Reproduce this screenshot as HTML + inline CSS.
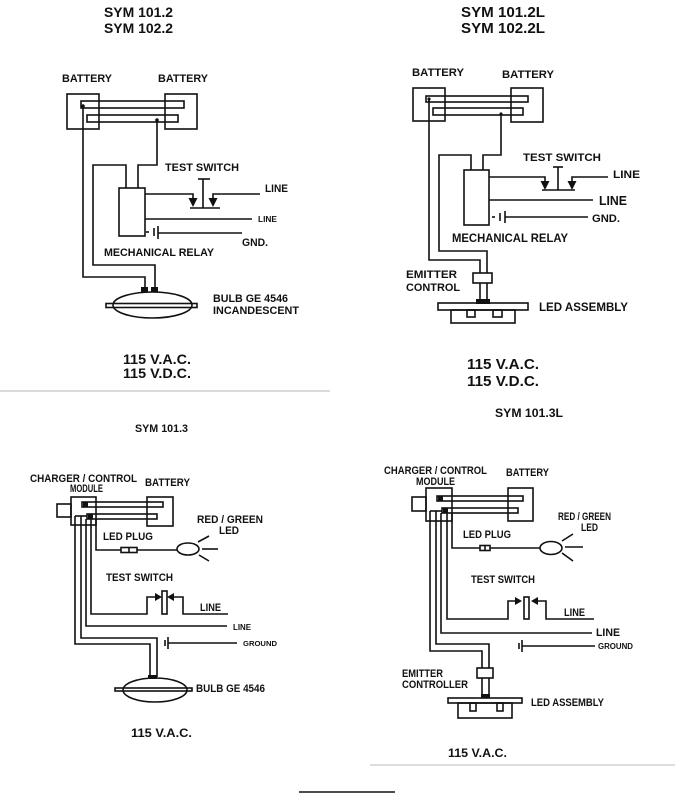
<!DOCTYPE html>
<html><head><meta charset="utf-8"><style>
html,body{margin:0;padding:0;background:#fff;}
svg{display:block;}
text{font-family:"Liberation Sans",Arial,sans-serif;font-weight:bold;fill:#111;}
</style></head><body>
<svg width="675" height="794" viewBox="0 0 675 794" xmlns="http://www.w3.org/2000/svg">
<g fill="none" stroke="#111" stroke-width="1.6">
<!-- ===== TOP LEFT ===== -->
<rect x="67" y="94" width="32" height="35"/>
<rect x="165" y="94" width="32" height="35"/>
<rect x="81" y="101" width="103" height="7"/>
<rect x="87" y="115" width="91" height="7"/>
<polyline points="83,106 83,277 145,277 145,290"/>
<polyline points="157,120 157,165 138,165 138,188"/>
<polyline points="126,188 126,165 93,165 93,265 155,265 155,290"/>
<rect x="119" y="188" width="26" height="48"/>
<polyline points="145,194 193,194 193,200"/>
<line x1="190" y1="208" x2="220" y2="208"/>
<line x1="203" y1="179" x2="203" y2="208"/>
<line x1="198" y1="179" x2="210" y2="179"/>
<polyline points="260,194 213,194 213,200"/>
<line x1="145" y1="219" x2="252" y2="219"/>
<line x1="146" y1="232" x2="149" y2="232"/>
<line x1="154" y1="228" x2="154" y2="236"/>
<line x1="158" y1="226" x2="158" y2="239"/>
<line x1="158" y1="233" x2="242" y2="233"/>
<ellipse cx="152.5" cy="305" rx="39.5" ry="13"/>
<rect x="106" y="303.5" width="91" height="4"/>
<!-- ===== TOP RIGHT ===== -->
<rect x="413" y="88" width="32" height="33"/>
<rect x="511" y="88" width="32" height="34"/>
<rect x="426" y="96" width="102" height="6"/>
<rect x="433" y="108" width="90" height="7"/>
<polyline points="429,99 429,260 480,260 480,273"/>
<polyline points="501,114 501,155 483,155 483,170"/>
<polyline points="471,170 471,155 439,155 439,251 487,251 487,273"/>
<rect x="464" y="170" width="25" height="55"/>
<polyline points="489,177 545,177 545,183"/>
<line x1="542" y1="190" x2="575" y2="190"/>
<line x1="558" y1="167" x2="558" y2="190"/>
<line x1="553" y1="167" x2="563" y2="167"/>
<polyline points="608,177 572,177 572,183"/>
<line x1="489" y1="200" x2="593" y2="200"/>
<line x1="492" y1="217" x2="495" y2="217"/>
<line x1="500" y1="213" x2="500" y2="221"/>
<line x1="505" y1="211" x2="505" y2="223"/>
<line x1="505" y1="217" x2="588" y2="217"/>
<rect x="473" y="273" width="19" height="10"/>
<line x1="480" y1="283" x2="480" y2="301"/>
<line x1="487" y1="283" x2="487" y2="301"/>
<rect x="438" y="303" width="90" height="7"/>
<rect x="451" y="310" width="64" height="13"/>
<rect x="467" y="310" width="8" height="7"/>
<rect x="493" y="310" width="9" height="7"/>
<!-- ===== BOTTOM LEFT ===== -->
<rect x="71" y="497" width="25" height="28"/>
<rect x="57" y="504" width="14" height="13"/>
<rect x="147" y="497" width="26" height="29"/>
<rect x="82" y="502" width="81" height="5"/>
<rect x="87" y="514" width="70" height="5"/>
<line x1="75" y1="516" x2="87" y2="516"/>
<polyline points="96,519 96,550 121,550"/>
<rect x="121" y="547.5" width="16" height="5"/>
<line x1="129" y1="547.5" x2="129" y2="552.5"/>
<line x1="137" y1="550" x2="177" y2="550"/>
<ellipse cx="188" cy="549" rx="11" ry="6"/>
<line x1="198" y1="542" x2="209" y2="536"/>
<line x1="202" y1="549" x2="218" y2="549"/>
<line x1="199" y1="555" x2="209" y2="561"/>
<polyline points="91,519 91,614 147,614 147,597 156,597"/>
<rect x="162" y="591" width="5" height="23"/>
<polyline points="173,597 183,597 183,614 228,614"/>
<polyline points="86,519 86,626 227,626"/>
<polyline points="81,516 81,638 157,638 157,677"/>
<polyline points="75,516 75,644 150,644 150,677"/>
<line x1="165" y1="640" x2="165" y2="646"/>
<line x1="168" y1="637" x2="168" y2="649"/>
<line x1="168" y1="643" x2="237" y2="643"/>
<ellipse cx="155" cy="690" rx="32" ry="12"/>
<rect x="115" y="688" width="77" height="3"/>
<!-- ===== BOTTOM RIGHT ===== -->
<rect x="426" y="488" width="26" height="33"/>
<rect x="412" y="497" width="14" height="14"/>
<rect x="508" y="488" width="25" height="33"/>
<rect x="437" y="496" width="86" height="5"/>
<rect x="442" y="508" width="76" height="5"/>
<line x1="430" y1="511" x2="442" y2="511"/>
<polyline points="452,513 452,548 480,548"/>
<rect x="480" y="545.5" width="10" height="5"/>
<line x1="485" y1="545.5" x2="485" y2="550.5"/>
<line x1="490" y1="548" x2="540" y2="548"/>
<ellipse cx="551" cy="548" rx="11" ry="6.5"/>
<line x1="562" y1="541" x2="573" y2="534"/>
<line x1="565" y1="547" x2="583" y2="547"/>
<line x1="562" y1="553" x2="573" y2="561"/>
<polyline points="447,513 447,619 508,619 508,601 516,601"/>
<rect x="524" y="597" width="5" height="22"/>
<polyline points="537,601 546,601 546,619 594,619"/>
<polyline points="441,513 441,633 592,633"/>
<polyline points="436,511 436,644 489,644 489,668"/>
<polyline points="430,511 430,651 482,651 482,668"/>
<rect x="477" y="668" width="16" height="10"/>
<line x1="482" y1="678" x2="482" y2="695"/>
<line x1="489" y1="678" x2="489" y2="695"/>
<rect x="448" y="698" width="74" height="5"/>
<rect x="458" y="703" width="54" height="15"/>
<rect x="470" y="703" width="6" height="8"/>
<rect x="497" y="703" width="6" height="8"/>
<line x1="519" y1="643" x2="519" y2="649"/>
<line x1="522" y1="640" x2="522" y2="652"/>
<line x1="522" y1="646" x2="595" y2="646"/>
</g>
<g fill="#111" stroke="none">
<circle cx="83" cy="106" r="1.8"/>
<circle cx="157" cy="120" r="1.8"/>
<polygon points="188.5,198 197.5,198 193,207"/>
<polygon points="208.5,198 217.5,198 213,207"/>
<rect x="141" y="287" width="7" height="5"/>
<rect x="151" y="287" width="7" height="5"/>
<circle cx="429" cy="99" r="1.6"/>
<circle cx="501" cy="114" r="1.6"/>
<polygon points="540.5,181 549.5,181 545,190"/>
<polygon points="567.5,181 576.5,181 572,190"/>
<rect x="476" y="299" width="14" height="5"/>
<rect x="83" y="502" width="5" height="5"/>
<rect x="88" y="514" width="5" height="5"/>
<polygon points="155,593 155,601 162,597"/>
<polygon points="174,593 174,601 167,597"/>
<rect x="148" y="675" width="9" height="4"/>
<rect x="438" y="496" width="5" height="5"/>
<rect x="443" y="508" width="5" height="5"/>
<polygon points="515,597 515,605 522,601"/>
<polygon points="538,597 538,605 531,601"/>
<rect x="481" y="694" width="9" height="4"/>
</g>
<line x1="0" y1="391" x2="330" y2="391" stroke="#cfcfcf" stroke-width="1.4"/>
<line x1="370" y1="765" x2="675" y2="765" stroke="#d2d2d2" stroke-width="1.4"/>
<line x1="299" y1="792" x2="395" y2="792" stroke="#111" stroke-width="1.6"/>

<!-- titles -->
<text x="104" y="17" font-size="14" textLength="69" lengthAdjust="spacingAndGlyphs">SYM 101.2</text>
<text x="104" y="33" font-size="14" textLength="69" lengthAdjust="spacingAndGlyphs">SYM 102.2</text>
<text x="461" y="17" font-size="14.5" textLength="84" lengthAdjust="spacingAndGlyphs">SYM 101.2L</text>
<text x="461" y="33" font-size="14.5" textLength="84" lengthAdjust="spacingAndGlyphs">SYM 102.2L</text>
<text x="123" y="364" font-size="14" textLength="68" lengthAdjust="spacingAndGlyphs">115 V.A.C.</text>
<text x="123" y="378" font-size="14" textLength="68" lengthAdjust="spacingAndGlyphs">115 V.D.C.</text>
<text x="467" y="369" font-size="14.5" textLength="72" lengthAdjust="spacingAndGlyphs">115 V.A.C.</text>
<text x="467" y="386" font-size="14.5" textLength="72" lengthAdjust="spacingAndGlyphs">115 V.D.C.</text>
<text x="135" y="432" font-size="11" textLength="53" lengthAdjust="spacingAndGlyphs">SYM 101.3</text>
<text x="495" y="417" font-size="11.5" textLength="68" lengthAdjust="spacingAndGlyphs">SYM 101.3L</text>
<text x="131" y="737" font-size="12" textLength="61" lengthAdjust="spacingAndGlyphs">115 V.A.C.</text>
<text x="448" y="757" font-size="12" textLength="59" lengthAdjust="spacingAndGlyphs">115 V.A.C.</text>

<!-- top-left labels -->
<text x="62" y="82" font-size="11" textLength="50" lengthAdjust="spacingAndGlyphs">BATTERY</text>
<text x="158" y="82" font-size="11" textLength="50" lengthAdjust="spacingAndGlyphs">BATTERY</text>
<text x="165" y="171" font-size="11" textLength="74" lengthAdjust="spacingAndGlyphs">TEST SWITCH</text>
<text x="265" y="192" font-size="11" textLength="23" lengthAdjust="spacingAndGlyphs">LINE</text>
<text x="258" y="222" font-size="8" textLength="19" lengthAdjust="spacingAndGlyphs">LINE</text>
<text x="242" y="246" font-size="11" textLength="26" lengthAdjust="spacingAndGlyphs">GND.</text>
<text x="104" y="256" font-size="11" textLength="110" lengthAdjust="spacingAndGlyphs">MECHANICAL RELAY</text>
<text x="213" y="302" font-size="11" textLength="75" lengthAdjust="spacingAndGlyphs">BULB GE 4546</text>
<text x="213" y="314" font-size="11" textLength="86" lengthAdjust="spacingAndGlyphs">INCANDESCENT</text>

<!-- top-right labels -->
<text x="412" y="76" font-size="11" textLength="52" lengthAdjust="spacingAndGlyphs">BATTERY</text>
<text x="502" y="78" font-size="11" textLength="52" lengthAdjust="spacingAndGlyphs">BATTERY</text>
<text x="523" y="161" font-size="11" textLength="78" lengthAdjust="spacingAndGlyphs">TEST SWITCH</text>
<text x="613" y="178" font-size="11" textLength="27" lengthAdjust="spacingAndGlyphs">LINE</text>
<text x="599" y="205" font-size="13" textLength="28" lengthAdjust="spacingAndGlyphs">LINE</text>
<text x="592" y="222" font-size="11" textLength="28" lengthAdjust="spacingAndGlyphs">GND.</text>
<text x="452" y="242" font-size="11.5" textLength="116" lengthAdjust="spacingAndGlyphs">MECHANICAL RELAY</text>
<text x="406" y="278" font-size="11" textLength="51" lengthAdjust="spacingAndGlyphs">EMITTER</text>
<text x="406" y="291" font-size="11" textLength="54" lengthAdjust="spacingAndGlyphs">CONTROL</text>
<text x="539" y="311" font-size="11.5" textLength="89" lengthAdjust="spacingAndGlyphs">LED ASSEMBLY</text>

<!-- bottom-left labels -->
<text x="30" y="482" font-size="11" textLength="107" lengthAdjust="spacingAndGlyphs">CHARGER / CONTROL</text>
<text x="70" y="492" font-size="11" textLength="33" lengthAdjust="spacingAndGlyphs">MODULE</text>
<text x="145" y="486" font-size="11" textLength="45" lengthAdjust="spacingAndGlyphs">BATTERY</text>
<text x="197" y="523" font-size="11" textLength="66" lengthAdjust="spacingAndGlyphs">RED / GREEN</text>
<text x="219" y="534" font-size="11" textLength="20" lengthAdjust="spacingAndGlyphs">LED</text>
<text x="103" y="540" font-size="11" textLength="50" lengthAdjust="spacingAndGlyphs">LED PLUG</text>
<text x="106" y="581" font-size="11" textLength="67" lengthAdjust="spacingAndGlyphs">TEST SWITCH</text>
<text x="200" y="611" font-size="11" textLength="21" lengthAdjust="spacingAndGlyphs">LINE</text>
<text x="233" y="630" font-size="8" textLength="18" lengthAdjust="spacingAndGlyphs">LINE</text>
<text x="243" y="646" font-size="7.5" textLength="34" lengthAdjust="spacingAndGlyphs">GROUND</text>
<text x="196" y="692" font-size="11" textLength="69" lengthAdjust="spacingAndGlyphs">BULB GE 4546</text>

<!-- bottom-right labels -->
<text x="384" y="474" font-size="11" textLength="103" lengthAdjust="spacingAndGlyphs">CHARGER / CONTROL</text>
<text x="416" y="485" font-size="11" textLength="39" lengthAdjust="spacingAndGlyphs">MODULE</text>
<text x="506" y="476" font-size="11" textLength="43" lengthAdjust="spacingAndGlyphs">BATTERY</text>
<text x="558" y="520" font-size="11" textLength="53" lengthAdjust="spacingAndGlyphs">RED / GREEN</text>
<text x="581" y="531" font-size="11" textLength="17" lengthAdjust="spacingAndGlyphs">LED</text>
<text x="463" y="538" font-size="11" textLength="48" lengthAdjust="spacingAndGlyphs">LED PLUG</text>
<text x="471" y="583" font-size="11" textLength="64" lengthAdjust="spacingAndGlyphs">TEST SWITCH</text>
<text x="564" y="616" font-size="11" textLength="21" lengthAdjust="spacingAndGlyphs">LINE</text>
<text x="596" y="636" font-size="11" textLength="24" lengthAdjust="spacingAndGlyphs">LINE</text>
<text x="598" y="649" font-size="8" textLength="35" lengthAdjust="spacingAndGlyphs">GROUND</text>
<text x="402" y="677" font-size="11" textLength="41" lengthAdjust="spacingAndGlyphs">EMITTER</text>
<text x="402" y="688" font-size="11" textLength="66" lengthAdjust="spacingAndGlyphs">CONTROLLER</text>
<text x="531" y="706" font-size="11" textLength="73" lengthAdjust="spacingAndGlyphs">LED ASSEMBLY</text>
</svg>
</body></html>
